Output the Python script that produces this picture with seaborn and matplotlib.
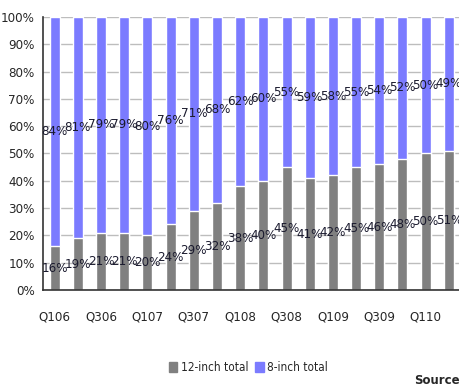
import matplotlib
matplotlib.use('Agg')
import matplotlib.pyplot as plt
from matplotlib import font_manager
from matplotlib.patches import Patch
import seaborn as sns
import pandas as pd
import numpy as np

# quarterly wafer share, 12-inch vs 8-inch
quarters = ['Q106', 'Q206', 'Q306', 'Q406', 'Q107', 'Q207', 'Q307', 'Q407', 'Q108',
            'Q208', 'Q308', 'Q408', 'Q109', 'Q209', 'Q309', 'Q409', 'Q110', 'Q210']
twelve_inch = [16, 19, 21, 21, 20, 24, 29, 32, 38, 40, 45, 41, 42, 45, 46, 48, 50, 51]
eight_inch = [84, 81, 79, 79, 80, 76, 71, 68, 62, 60, 55, 59, 58, 55, 54, 52, 50, 49]
y_ticks = list(range(0, 101, 10))

gray = '#808080'
blue = '#7B7BFF'

sns.set_style('white')

# narrow font if one is around, else plain Liberation Sans a bit smaller
condensed = [f for f in font_manager.fontManager.ttflist
             if f.name == 'DejaVu Sans' and f.stretch == 'condensed' and f.weight in (400, 'normal')]
if condensed:
    plt.rcParams['font.family'] = ['DejaVu Sans']
    plt.rcParams['font.stretch'] = 'condensed'
    fs = 9.5
else:
    plt.rcParams['font.family'] = ['Liberation Sans', 'DejaVu Sans']
    fs = 8.5

df = pd.DataFrame({'quarter': quarters, 'twelve': twelve_inch, 'eight': eight_inch})
df['total'] = df['twelve'] + df['eight']

fig = plt.figure(figsize=(4.6, 3.88), dpi=100)
ax = fig.add_axes([0.0935, 0.2526, 0.9075, 0.7036])

sns.barplot(data=df, x='quarter', y='total', color=blue, width=0.43, saturation=1, ax=ax, zorder=2)
sns.barplot(data=df, x='quarter', y='twelve', color=gray, width=0.43, saturation=1, ax=ax, zorder=2)

for i, (a, b) in enumerate(zip(twelve_inch, eight_inch)):
    ax.text(i, a / 2, f'{a}%', ha='center', va='center', fontsize=fs, color='#1a1a2e', zorder=3)
    ax.text(i, a + b / 2, f'{b}%', ha='center', va='center', fontsize=fs, color='#1a1a2e', zorder=3)

ax.set_xlim(-0.5, len(quarters) - 0.5)
ax.set_ylim(0, 100)
ax.set_yticks(y_ticks)
ax.set_yticklabels([f'{t}%' for t in y_ticks], fontsize=fs)
ax.yaxis.grid(True, color='#bdbdbd', linewidth=1, zorder=0)
ax.set_axisbelow(True)

ax.set_xticks(np.arange(0, len(quarters), 2))
ax.set_xticklabels(quarters[::2], fontsize=fs)
ax.set_xticks(np.arange(-0.5, len(quarters), 1), minor=True)
ax.tick_params(axis='x', which='major', length=0, pad=15)
ax.tick_params(axis='x', which='minor', length=5, width=1, color='#333333', direction='out')
ax.tick_params(axis='y', length=4, width=1, color='#333333', direction='out', pad=2)
ax.set_xlabel('')
ax.set_ylabel('')

for s in ['top', 'right']:
    ax.spines[s].set_visible(False)
for s in ['left', 'bottom']:
    ax.spines[s].set_color('#333333')
    ax.spines[s].set_linewidth(1.2)

handles = [Patch(color=gray, label='12-inch total'), Patch(color=blue, label='8-inch total')]
fig.legend(handles=handles, loc='center', bbox_to_anchor=(0.54, 0.052), ncol=2, frameon=False,
           fontsize=fs - 1, handlelength=0.7, handleheight=0.9, handletextpad=0.3, columnspacing=0.6)

fig.text(0.9, 1 - 374 / 388, 'Source:', fontsize=8.5, fontweight='bold', va='top',
         family='DejaVu Sans', fontstretch='normal')

fig.savefig('out.png', dpi=100)
